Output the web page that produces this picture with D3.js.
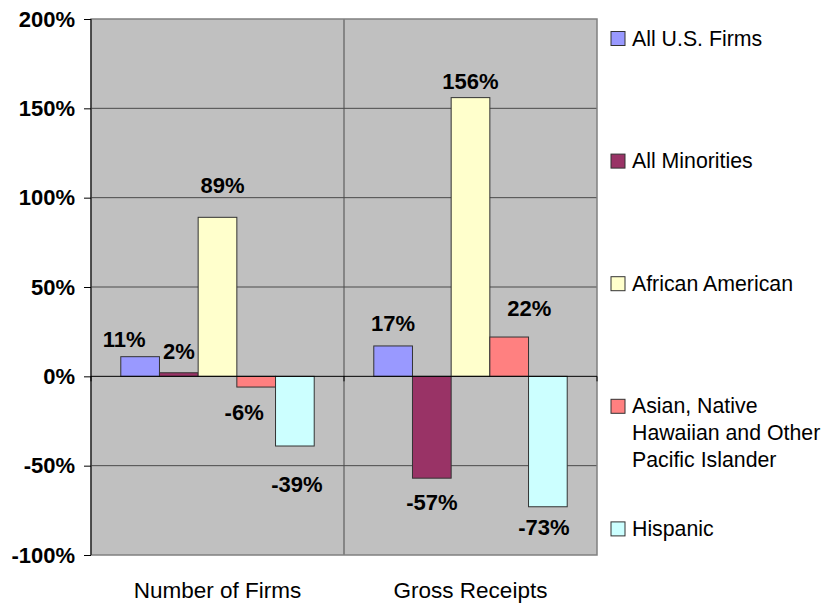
<!DOCTYPE html>
<html>
<head>
<meta charset="utf-8">
<script src="https://cdn.jsdelivr.net/npm/d3@7"></script>
<style>
  body { margin: 0; background: #fff; }
  text { font-family: "Liberation Sans", Arial, sans-serif; }
</style>
</head>
<body>
<svg id="chart"></svg>
<script>
// data
const categories = ["Number of Firms", "Gross Receipts"]
const seriesNames = ["All U.S. Firms", "All Minorities", "African American",
  "Asian, Native\nHawaiian and Other\nPacific Islander", "Hispanic"]
const firmsValues = [11, 2, 89, -6, -39]
const receiptsValues = [17, -57, 156, 22, -73]
const yTicks = [-100, -50, 0, 50, 100, 150, 200]

// layout only: hand-placed label offsets from the default spot
const labelShift = [
  [[-16, 0], [0, -4], [5, -14], [-12, 3], [2, 16]],
  [[0, -5], [0, 2], [0, 1], [20, -11], [-4, -2]]
]
const colors = ["#9999ff", "#993366", "#ffffcc", "#ff8080", "#ccffff"]

const width = 826, height = 603
const margin = {top: 19, right: 229, bottom: 48, left: 91}

const svg = d3.select("#chart")
    .attr("width", width)
    .attr("height", height)

const x = d3.scaleBand()
    .domain(categories)
    .range([margin.left, width - margin.right])

const xs = d3.scaleBand()
    .domain(d3.range(seriesNames.length))
    .range([0, x.bandwidth()])
    .paddingOuter(0.77)

const y = d3.scaleLinear()
    .domain([-100, 200])
    .range([height - margin.bottom, margin.top])

// plot background
svg.append("rect")
    .attr("x", margin.left).attr("y", margin.top)
    .attr("width", width - margin.right - margin.left)
    .attr("height", y(-100) - y(200))
    .attr("fill", "#c0c0c0")

// horizontal gridlines
svg.append("g")
  .selectAll("line")
  .data(yTicks.filter(d => d != 0 && d != 200 && d != -100))
  .join("line")
    .attr("x1", margin.left).attr("x2", width - margin.right)
    .attr("y1", d => y(d)).attr("y2", d => y(d))
    .attr("stroke", "#4a4a4a")
    .attr("stroke-width", 1)

// vertical gridline between categories
svg.append("g")
  .selectAll("line")
  .data(categories.slice(1))
  .join("line")
    .attr("x1", d => x(d)).attr("x2", d => x(d))
    .attr("y1", y(200)).attr("y2", y(-100))
    .attr("stroke", "#4a4a4a")

// plot border
svg.append("rect")
    .attr("x", margin.left).attr("y", margin.top)
    .attr("width", width - margin.right - margin.left)
    .attr("height", y(-100) - y(200))
    .attr("fill", "none")
    .attr("stroke", "#808080")
    .attr("stroke-width", 1.5)

const rows = [firmsValues, receiptsValues]

// bars
const groups = svg.append("g")
  .selectAll("g")
  .data(categories)
  .join("g")
    .attr("transform", d => `translate(${x(d)},0)`)

groups.selectAll("rect")
  .data((c, ci) => rows[ci].map((v, i) => ({v, i})))
  .join("rect")
    .attr("x", d => xs(d.i))
    .attr("width", xs.bandwidth())
    .attr("y", d => y(Math.max(0, d.v)))
    .attr("height", d => Math.abs(y(d.v) - y(0)))
    .attr("fill", d => colors[d.i])
    .attr("stroke", "#333")
    .attr("stroke-width", 1)

// value labels
groups.selectAll("text")
  .data((c, ci) => rows[ci].map((v, i) => ({v, i, s: labelShift[ci][i]})))
  .join("text")
    .attr("x", d => xs(d.i) + xs.bandwidth() / 2 + d.s[0])
    .attr("y", d => (d.v >= 0 ? y(d.v) - 10 : y(d.v) + 30) + d.s[1])
    .attr("text-anchor", "middle")
    .attr("font-size", 22)
    .attr("font-weight", "bold")
    .attr("fill", "#000")
    .text(d => d.v + "%")

// category axis at zero
svg.append("line")
    .attr("x1", margin.left).attr("x2", width - margin.right)
    .attr("y1", y(0)).attr("y2", y(0))
    .attr("stroke", "#000")
svg.append("g")
  .selectAll("line")
  .data(categories.concat([null]))
  .join("line")
    .attr("x1", d => d ? x(d) : width - margin.right)
    .attr("x2", d => d ? x(d) : width - margin.right)
    .attr("y1", y(0)).attr("y2", y(0) + 5)
    .attr("stroke", "#000")

// y axis
svg.append("g")
    .attr("transform", `translate(${margin.left},0)`)
    .call(d3.axisLeft(y).tickValues(yTicks).tickSize(7).tickPadding(9)
        .tickFormat(d => d + "%"))
    .call(g => g.selectAll("line, path").attr("stroke", "#000"))
    .call(g => g.select(".domain").attr("d", `M0,${y(200)}V${y(-100)}`))
    .call(g => g.selectAll("text")
        .attr("font-size", 22)
        .attr("font-weight", "bold")
        .attr("font-family", "'Liberation Sans', Arial, sans-serif")
        .attr("fill", "#000"))

// category labels
svg.append("g")
  .selectAll("text")
  .data(categories)
  .join("text")
    .attr("x", d => x(d) + x.bandwidth() / 2)
    .attr("y", 598)
    .attr("text-anchor", "middle")
    .attr("font-size", 22.5)
    .text(d => d)

// legend
const legend = svg.append("g")
  .selectAll("g")
  .data(seriesNames)
  .join("g")
    .attr("transform", (d, i) => `translate(611,${45.5 + i * 122.6})`)

legend.append("rect")
    .attr("x", 0).attr("y", -14)
    .attr("width", 14).attr("height", 14)
    .attr("fill", (d, i) => colors[i])
    .attr("stroke", "#333")

legend.append("text")
    .attr("font-size", 21.3)
  .selectAll("tspan")
  .data(d => d.split("\n"))
  .join("tspan")
    .attr("x", 21)
    .attr("y", (d, i) => i * 27)
    .text(d => d)
</script>
</body>
</html>
